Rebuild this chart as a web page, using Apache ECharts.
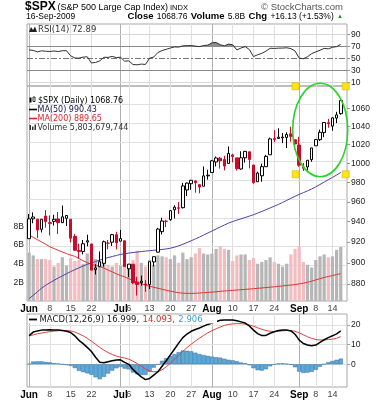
<!DOCTYPE html>
<html><head><meta charset="utf-8">
<script src="https://cdn.jsdelivr.net/npm/echarts@6.0.0/dist/echarts.min.js"></script>
<style>html,body{margin:0;padding:0;background:#fff;}#c{width:379px;height:400px;}</style>
</head><body><div id="c"></div><script>
// ---------------- data ----------------
const dates = ['06-01','06-02','06-03','06-04','06-05','06-08','06-09','06-10','06-11','06-12','06-15','06-16','06-17','06-18','06-19','06-22','06-23','06-24','06-25','06-26','06-29','06-30','07-01','07-02','07-06','07-07','07-08','07-09','07-10','07-13','07-14','07-15','07-16','07-17','07-20','07-21','07-22','07-23','07-24','07-27','07-28','07-29','07-30','07-31','08-03','08-04','08-05','08-06','08-07','08-10','08-11','08-12','08-13','08-14','08-17','08-18','08-19','08-20','08-21','08-24','08-25','08-26','08-27','08-28','08-31','09-01','09-02','09-03','09-04','09-08','09-09','09-10','09-11','09-14','09-15','09-16'];
const prevClose = 919.14;
const opens = [923.26,942.87,942.51,932.49,945.67,938.12,940.35,942.73,939.04,943.44,
942.45,925.60,911.89,910.86,919.96,918.13,893.46,896.31,899.45,918.84,
919.86,927.15,920.82,921.24,894.27,898.60,881.90,881.28,880.03,879.57,
900.77,910.15,930.17,940.56,942.07,951.97,953.40,954.07,972.16,978.63,
981.48,977.66,976.01,986.80,990.22,1001.41,1005.41,1004.06,999.83,1008.89,
1005.77,994.00,1005.86,1012.23,998.18,980.62,986.88,996.41,1009.06,1026.59,
1026.63,1027.35,1027.81,1031.62,1025.21,1019.52,996.07,996.12,1003.84,1018.67,
1025.36,1032.99,1043.92,1040.15,1049.03,1053.99];
const highs = [947.77,949.38,942.51,942.47,951.69,946.33,946.92,949.77,956.23,946.30,
942.45,928.00,918.44,921.93,927.09,918.13,898.69,910.85,921.42,922.00,
927.99,930.01,931.92,921.24,898.72,898.60,886.80,887.86,883.57,901.05,
905.84,933.95,943.96,941.89,951.62,956.53,959.83,979.42,979.79,982.49,
982.35,977.76,996.68,993.18,1003.61,1007.12,1006.64,1008.00,1018.00,1010.12,
1005.77,1012.78,1013.14,1012.60,998.18,991.20,999.61,1008.92,1027.59,1035.82,
1037.75,1032.47,1033.33,1039.47,1025.21,1028.45,1000.34,1003.43,1016.48,1026.07,
1036.34,1044.14,1048.18,1049.74,1056.04,1068.76];
const lows = [923.26,938.46,923.85,929.32,934.13,926.44,936.15,927.97,939.04,935.66,
919.65,911.60,903.78,907.94,915.80,893.04,888.86,896.31,896.27,913.03,
916.18,912.86,920.82,896.42,886.36,879.93,869.32,878.45,872.81,875.32,
896.50,910.15,927.45,934.65,940.99,943.22,947.75,953.27,965.95,972.29,
969.35,968.65,976.01,982.85,990.22,996.68,994.31,992.49,999.83,1000.99,
992.40,993.36,1000.82,994.60,978.51,980.62,980.62,996.39,1009.06,1022.48,
1026.21,1021.57,1016.20,1023.13,1014.62,996.28,991.97,992.25,1001.65,1018.67,
1023.97,1028.04,1038.40,1035.00,1043.42,1052.87];
const closes = [942.87,944.74,931.76,942.46,940.09,939.14,942.43,939.15,944.89,946.21,
923.72,911.97,910.71,918.37,921.23,893.04,895.10,900.94,920.26,918.90,
927.23,919.32,923.33,896.42,898.72,881.03,879.56,882.68,879.13,901.05,
905.84,932.68,940.74,940.38,951.13,954.58,954.07,976.29,979.26,982.18,
979.62,975.15,986.75,987.48,1002.63,1005.65,1002.72,997.08,1010.48,1007.10,
994.35,1005.81,1012.73,1004.09,979.73,989.67,996.46,1007.37,1026.13,1025.57,
1028.00,1028.12,1030.98,1028.93,1020.62,998.04,994.75,1003.24,1016.40,1025.39,
1033.37,1044.14,1042.73,1049.34,1052.63,1068.76];
// volume, billions of shares
const volumes = [5.2,4.9,4.5,4.5,4.5,4.4,3.7,4.1,4.7,3.8,
4.6,4.3,4.4,4.0,5.1,4.7,4.5,4.3,4.6,3.9,
3.7,4.1,3.8,4.0,3.9,4.4,5.4,4.1,3.7,4.4,
3.9,4.9,4.8,4.7,4.5,4.9,4.1,5.2,4.5,4.7,
5.1,5.7,5.1,5.0,5.1,5.6,5.9,5.6,5.5,4.3,
4.9,5.0,5.0,4.4,4.6,4.0,4.2,4.4,4.7,4.2,
4.0,3.7,4.0,5.0,5.6,5.9,4.2,3.9,3.6,4.4,
4.8,5.0,4.7,4.8,5.5,5.8];
const ma50 = [866.5,869.5,872.8,876.0,878.8,881.2,883.4,885.6,887.6,889.6,
891.6,893.4,895.2,896.9,898.5,899.9,901.2,902.6,903.8,905.0,
906.0,907.0,908.0,908.7,909.3,909.8,910.3,910.8,911.2,911.6,
912.0,912.4,912.8,913.3,914.0,915.0,916.3,917.8,919.5,921.2,
923.0,924.8,926.8,928.8,930.8,932.8,934.8,936.7,938.6,940.2,
941.6,942.9,944.2,945.6,947.0,948.6,950.3,952.0,953.8,955.6,
957.4,959.4,961.5,963.6,965.6,967.6,969.4,971.2,973.2,975.4,
977.8,980.3,982.8,985.2,987.6,990.4];
const ma200 = [927.0,924.6,922.3,920.1,917.8,915.4,913.7,912.0,910.4,908.8,
907.3,906.2,904.0,902.0,900.1,898.4,897.5,896.6,894.9,893.1,
891.4,889.6,888.0,886.6,884.9,883.2,881.6,880.3,879.0,877.9,
877.0,876.0,875.1,874.2,873.4,872.6,871.9,871.5,871.3,871.3,
871.4,871.6,871.9,872.2,872.5,872.8,873.2,873.5,873.8,874.1,
874.4,874.7,875.0,875.3,875.6,876.0,876.3,876.7,877.0,877.4,
877.8,878.2,878.6,879.0,879.5,880.1,880.8,881.6,882.6,883.8,
885.0,886.1,887.0,887.9,888.8,889.7];
const rsi = [63.8,63.0,60.5,62.3,61.6,61.2,62.0,61.2,62.4,62.6,
54.0,50.4,50.0,51.8,52.4,42.0,43.0,45.5,51.6,51.3,
53.0,51.0,51.7,45.0,45.6,39.5,39.0,40.2,39.6,50.0,
52.0,59.5,62.8,64.8,67.0,68.8,68.5,70.6,70.8,71.0,
70.2,69.3,71.2,71.8,75.6,76.2,72.5,70.6,73.5,72.4,
63.8,67.0,69.3,64.5,52.7,55.8,58.2,61.8,66.6,66.3,
66.8,66.9,67.4,66.0,62.0,50.2,49.0,52.5,57.6,60.6,
63.2,66.4,65.6,68.2,69.3,72.9];
const macd = [14.6,16.4,17.0,17.4,17.5,17.6,17.5,17.5,17.2,16.8,
16.2,14.5,12.2,10.5,8.6,6.5,3.6,1.0,0.8,1.3,
1.8,2.2,2.3,1.0,0.0,-2.6,-4.6,-6.4,-7.8,-7.2,
-5.5,-3.8,-1.0,1.8,4.8,7.8,10.8,13.6,15.4,16.8,
17.7,18.5,19.4,20.3,21.0,21.7,22.4,22.6,22.6,22.6,
22.2,21.6,21.0,19.5,17.4,15.6,14.6,14.7,15.8,16.6,
17.2,17.5,17.5,17.0,15.3,12.3,10.6,9.8,9.4,9.8,
11.2,12.5,13.6,14.5,15.5,17.0];
const signal = [14.4,15.0,15.5,15.9,16.3,16.6,16.9,17.1,17.2,17.2,
17.0,16.4,15.5,14.5,13.2,11.8,10.2,8.6,7.2,6.0,
5.0,4.2,3.6,3.2,2.6,1.6,0.4,-1.0,-2.4,-3.4,
-3.8,-3.7,-2.8,-1.3,0.6,2.6,4.6,6.6,8.5,10.2,
11.8,13.3,14.7,16.0,17.1,18.1,19.0,19.8,20.3,20.6,
20.7,20.7,20.5,20.0,19.4,18.6,17.8,17.2,16.8,16.7,
16.8,17.0,17.2,17.2,16.8,16.0,15.0,14.0,13.2,12.6,
12.4,12.4,12.6,12.8,13.2,14.1];
const hist = [0.2,1.4,1.5,1.5,1.2,1.0,0.6,0.4,0.0,-0.4,
-0.8,-1.9,-3.3,-4.0,-4.6,-5.3,-6.6,-7.6,-6.4,-4.7,
-3.2,-2.0,-1.3,-2.2,-2.6,-4.2,-5.0,-5.4,-5.4,-3.8,
-1.7,-0.1,1.8,3.1,4.2,5.2,6.2,7.0,6.9,6.6,
5.9,5.2,4.7,4.3,3.9,3.6,3.4,2.8,2.3,2.0,
1.5,0.9,0.5,-0.5,-2.0,-3.0,-3.2,-2.5,-1.0,-0.1,
0.4,0.5,0.3,-0.2,-1.5,-3.7,-4.4,-4.2,-3.8,-2.8,
-1.2,0.1,1.0,1.7,2.3,2.9];
// tick labels
const priceTicks = [880,900,920,940,960,980,1000,1020,1040,1060];
const volumeTicks = [2,4,6,8];
const rsiTicks = [10,30,50,70,90];
const macdTicks = [0,10,20];
const weekTickDates = ['06-01','06-08','06-15','06-22','07-01','07-06','07-13','07-20','07-27','08-03','08-10','08-17','08-24','09-01','09-08','09-14'];
const tickLabels = ['Jun','8','15','22','Jul','6','13','20','27','Aug','10','17','24','Sep','8','14'];
const monthNames = ['Jun','Jul','Aug','Sep'];

// ---------------- chart ----------------
const F = '"Liberation Sans", Arial, sans-serif';
const FV = '"DejaVu Sans", Verdana, sans-serif';
const L = v => Math.log(v);
const n = dates.length;
const cats = dates.concat(['']);
const labelMap = {};
weekTickDates.forEach((d, k) => { labelMap[d] = tickLabels[k]; });

function fmtX(val) {
  const t = labelMap[val];
  if (t === undefined) return '';
  return monthNames.indexOf(t) >= 0 ? '{m|' + t + '}' : '{d|' + t + '}';
}
function xAx(gi, show) {
  return {
    type: 'category', gridIndex: gi, data: cats, boundaryGap: true,
    axisLine: { show: false }, axisTick: { show: false }, splitLine: { show: false },
    axisLabel: {
      show: show, interval: (i, v) => labelMap[v] !== undefined, formatter: fmtX, margin: 3,
      hideOverlap: false,
      rich: {
        m: { fontFamily: F, fontWeight: 'bold', fontSize: 10, color: '#000' },
        d: { fontFamily: F, fontSize: 9, color: '#444' }
      }
    }
  };
}
function yLab(vals, fmt, pos) {
  return {
    show: true, customValues: vals, formatter: fmt, margin: pos === 'left' ? 3 : 4,
    fontFamily: F, fontSize: 8.5, color: '#222'
  };
}
const vLines = weekTickDates.map(d => ({
  xAxis: d,
  lineStyle: { color: monthNames.indexOf(labelMap[d]) >= 0 ? '#b0b0b0' : '#e0e0e0', width: 1, type: 'solid' }
}));
function gridLines(xi, yi, items) {
  return {
    type: 'line', xAxisIndex: xi, yAxisIndex: yi, data: [], silent: true, symbol: 'none',
    markLine: {
      z: 1, silent: true, symbol: ['none', 'none'], label: { show: false }, animation: false,
      lineStyle: { type: 'solid', width: 1, color: '#e0e0e0' }, emphasis: { disabled: true },
      data: items
    }
  };
}
const rsiH = rsiTicks.map(v => {
  let ls = { color: '#d8d8d8', width: 1, type: 'solid' };
  if (v === 30 || v === 70) ls = { color: '#8a8a8a', width: 1, type: 'solid' };
  if (v === 50) ls = { color: '#777', width: 1, type: [6, 2, 2, 2] };
  return { yAxis: v, lineStyle: ls };
});
const priceH = priceTicks.map(p => ({ yAxis: L(p) }));
const macdH = macdTicks.map(v => ({ yAxis: v }));

const candleData = dates.map((d, i) => {
  const hollow = closes[i] >= opens[i];
  const prev = i === 0 ? prevClose : closes[i - 1];
  const col = closes[i] >= prev ? '#000000' : '#cc0a2c';
  const fill = hollow ? '#ffffff' : col;
  return {
    value: [L(opens[i]), L(closes[i]), L(lows[i]), L(highs[i])],
    itemStyle: { color: fill, color0: fill, borderColor: col, borderColor0: col, borderWidth: 1 }
  };
});
const volData = volumes.map((v, i) => {
  const prev = i === 0 ? prevClose : closes[i - 1];
  return { value: v, itemStyle: { color: closes[i] >= prev ? '#b6b6b6' : '#f3bcc1' } };
});

const last = closes[n - 1], chg = last - closes[n - 2], pct = chg / closes[n - 2] * 100;

const graphics = [
  // header
  { type: 'text', x: 25, y: 7, z: 100, style: { text: '$SPX', font: 'bold 12px ' + F, fill: '#000', verticalAlign: 'middle' } },
  { type: 'text', x: 57.5, y: 7.5, z: 100, style: { text: '(S&P 500 Large Cap Index)', font: '9px ' + F, fill: '#000', verticalAlign: 'middle' } },
  { type: 'text', x: 170, y: 8, z: 100, style: { text: 'INDX', font: '7.5px ' + F, fill: '#000', verticalAlign: 'middle' } },
  { type: 'text', x: 343, y: 7.5, z: 100, style: { text: '\u00a9 StockCharts.com', font: '9.5px ' + F, fill: '#555', align: 'right', verticalAlign: 'middle' } },
  { type: 'text', x: 26, y: 16.5, z: 100, style: { text: '16-Sep-2009', font: '8.5px ' + F, fill: '#000', verticalAlign: 'middle' } },
  { type: 'text', x: 343, y: 16.5, z: 100, style: {
      text: '{b|Close} {n|' + last.toFixed(2) + '} {b|Volume} {n|' + volumes[n - 1].toFixed(1) + 'B} {b|Chg} {n|+' + chg.toFixed(2) + ' (+' + pct.toFixed(2) + '%)} {g|\u25b2}',
      align: 'right', verticalAlign: 'middle',
      rich: {
        b: { fontFamily: F, fontWeight: 'bold', fontSize: 9.5, fill: '#000' },
        n: { fontFamily: F, fontSize: 8.5, fill: '#000' },
        g: { fontFamily: F, fontSize: 6, fill: '#1a9a1a' }
      } } },
  // RSI label
  { type: 'polygon', z: 100, shape: { points: [[29, 32], [31, 27], [33, 30], [35, 26.5], [37, 32]] }, style: { fill: '#222' } },
  { type: 'text', x: 38, y: 29.3, z: 100, style: { text: 'RSI(14) 72.89', font: '8.5px ' + FV, fill: '#333', verticalAlign: 'middle' } },
  // main legend
  { type: 'rect', z: 100, shape: { x: 29.5, y: 97.5, width: 2, height: 5 }, style: { fill: '#000' } },
  { type: 'rect', z: 100, shape: { x: 33, y: 97, width: 2, height: 4.5 }, style: { fill: '#fff', stroke: '#000', lineWidth: 0.8 } },
  { type: 'text', x: 38, y: 100.7, z: 100, style: { text: '$SPX (Daily) ' + last.toFixed(2), font: '8px ' + FV, fill: '#000', verticalAlign: 'middle' } },
  { type: 'line', z: 100, shape: { x1: 29, y1: 109.5, x2: 37, y2: 109.5 }, style: { stroke: '#000', lineWidth: 1.6 } },
  { type: 'text', x: 37.5, y: 109.5, z: 100, style: { text: 'MA(50) 990.43', font: '8px ' + FV, fill: '#151545', verticalAlign: 'middle' } },
  { type: 'line', z: 100, shape: { x1: 29, y1: 118.5, x2: 37, y2: 118.5 }, style: { stroke: '#d42a2a', lineWidth: 1.6 } },
  { type: 'text', x: 37.5, y: 118.5, z: 100, style: { text: 'MA(200) 889.65', font: '8px ' + FV, fill: '#d42a2a', verticalAlign: 'middle' } },
  { type: 'rect', z: 100, shape: { x: 29.5, y: 125, width: 1.5, height: 5 }, style: { fill: '#333' } },
  { type: 'rect', z: 100, shape: { x: 32, y: 126.5, width: 1.5, height: 3.5 }, style: { fill: '#333' } },
  { type: 'rect', z: 100, shape: { x: 34.5, y: 124.5, width: 1.5, height: 5.5 }, style: { fill: '#333' } },
  { type: 'text', x: 37.5, y: 127.7, z: 100, style: { text: 'Volume 5,803,679,744', font: '8px ' + FV, fill: '#333', verticalAlign: 'middle' } },
  // MACD legend
  { type: 'rect', z: 99, shape: { x: 28, y: 315, width: 189, height: 8.5 }, style: { fill: '#fff' } },
  { type: 'line', z: 100, shape: { x1: 29, y1: 319.5, x2: 37, y2: 319.5 }, style: { stroke: '#000', lineWidth: 1.8 } },
  { type: 'text', x: 39.5, y: 319.5, z: 100, style: {
      text: '{k|MACD(12,26,9) 16.999,} {r|14.093,} {c|2.906}',
      verticalAlign: 'middle',
      rich: {
        k: { fontFamily: FV, fontSize: 8.5, fill: '#222' },
        r: { fontFamily: FV, fontSize: 8.5, fill: '#d42a2a' },
        c: { fontFamily: FV, fontSize: 8.5, fill: '#3aa0c8' }
      } } },
  // annotation drawn on the chart
  { type: 'ellipse', z: 100, shape: { cx: 320.2, cy: 130, rx: 27.5, ry: 46.7 }, style: { fill: 'none', stroke: '#2ad42a', lineWidth: 1.6 } }
];
[[295.5, 86.3], [345.7, 86.3], [295.7, 174.3], [345.7, 174.3]].forEach(p => {
  graphics.push({ type: 'rect', z: 101, shape: { x: p[0] - 3.5, y: p[1] - 3.5, width: 7, height: 7 }, style: { fill: '#ffe619', stroke: '#cdb000', lineWidth: 0.6 } });
});

const gridBase = { left: 27, right: 32, show: true, borderColor: '#a8a8a8', borderWidth: 1, backgroundColor: 'transparent', containLabel: false, outerBoundsMode: 'none' };

const option = {
  animation: false,
  backgroundColor: '#fff',
  textStyle: { fontFamily: F },
  grid: [
    Object.assign({}, gridBase, { top: 24, height: 62 }),
    Object.assign({}, gridBase, { top: 86, height: 215 }),
    Object.assign({}, gridBase, { top: 314, height: 73 })
  ],
  xAxis: [xAx(0, false), xAx(1, true), xAx(2, true)],
  yAxis: [
    { type: 'value', gridIndex: 0, position: 'right', min: 3.7, max: 107, scale: true,
      axisLine: { show: false }, splitLine: { show: false },
      axisTick: { show: true, customValues: rsiTicks, length: 3, lineStyle: { color: '#999' } },
      axisLabel: yLab(rsiTicks, v => String(Math.round(v)), 'right') },
    { type: 'value', gridIndex: 1, position: 'right', min: L(864.3), max: L(1085.3), scale: true,
      axisLine: { show: false }, splitLine: { show: false },
      axisTick: { show: true, customValues: priceTicks.map(L), length: 3, lineStyle: { color: '#999' } },
      axisLabel: yLab(priceTicks.map(L), v => String(Math.round(Math.exp(v))), 'right') },
    { type: 'value', gridIndex: 1, position: 'left', min: 0, max: 23.1,
      axisLine: { show: false }, splitLine: { show: false },
      axisTick: { show: false },
      axisLabel: yLab(volumeTicks, v => Math.round(v) + 'B', 'left') },
    { type: 'value', gridIndex: 2, position: 'right', min: -11.55, max: 25.6, scale: true,
      axisLine: { show: false }, splitLine: { show: false },
      axisTick: { show: true, customValues: macdTicks, length: 3, lineStyle: { color: '#999' } },
      axisLabel: yLab(macdTicks, v => String(Math.round(v)), 'right') }
  ],
  graphic: { elements: graphics },
  series: [
    gridLines(0, 0, vLines.concat(rsiH)),
    gridLines(1, 1, vLines.concat(priceH)),
    gridLines(2, 3, vLines.concat(macdH)),
    { type: 'line', xAxisIndex: 0, yAxisIndex: 0, stack: 'rsi', data: rsi.map(v => Math.min(v, 70)), symbol: 'none', silent: true,
      lineStyle: { width: 0, opacity: 0 }, z: 2 },
    { type: 'line', xAxisIndex: 0, yAxisIndex: 0, stack: 'rsi', data: rsi.map(v => Math.max(v - 70, 0)), symbol: 'none', silent: true,
      lineStyle: { width: 0, opacity: 0 }, areaStyle: { color: '#8e8e8e', opacity: 1 }, z: 2 },
    { type: 'line', xAxisIndex: 0, yAxisIndex: 0, data: rsi, symbol: 'none', silent: true,
      lineStyle: { color: '#303030', width: 1 }, z: 3 },
    { type: 'bar', xAxisIndex: 1, yAxisIndex: 2, data: volData, barWidth: '78%', silent: true, z: 1 },
    { type: 'line', xAxisIndex: 1, yAxisIndex: 1, data: ma200.map(L), symbol: 'none', silent: true,
      lineStyle: { color: '#e23434', width: 1 }, z: 2 },
    { type: 'line', xAxisIndex: 1, yAxisIndex: 1, data: ma50.map(L), symbol: 'none', silent: true,
      lineStyle: { color: '#4646a6', width: 1 }, z: 2 },
    { type: 'candlestick', xAxisIndex: 1, yAxisIndex: 1, data: candleData, barWidth: 3, silent: true, z: 3 },
    { type: 'bar', xAxisIndex: 2, yAxisIndex: 3, data: hist, barCategoryGap: '0%', silent: true,
      itemStyle: { color: '#5ea8da', borderColor: '#2f6f9f', borderWidth: 0.5 }, z: 2 },
    { type: 'line', xAxisIndex: 2, yAxisIndex: 3, data: signal, symbol: 'none', silent: true,
      lineStyle: { color: '#e04040', width: 1 }, z: 3 },
    { type: 'line', xAxisIndex: 2, yAxisIndex: 3, data: macd, symbol: 'none', silent: true,
      lineStyle: { color: '#000', width: 1.5 }, z: 4 }
  ]
};
const chart = echarts.init(document.getElementById('c'), null, { renderer: 'canvas' });
chart.setOption(option);
</script></body></html>
